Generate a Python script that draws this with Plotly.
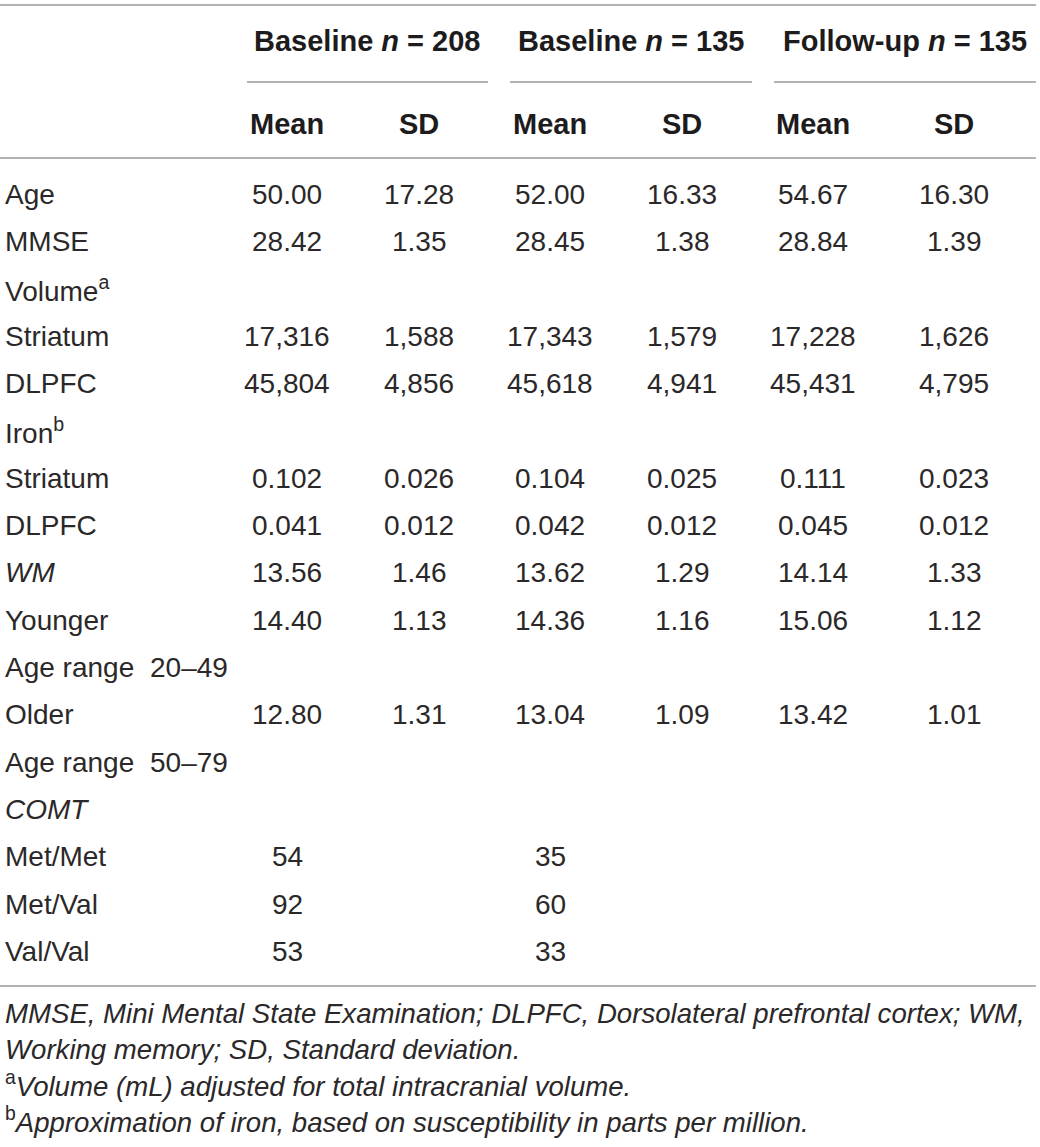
import plotly.graph_objects as go

# table content
labels = ["Age", "MMSE", "Volume<sup>a</sup>", "Striatum", "DLPFC", "Iron<sup>b</sup>",
          "Striatum", "DLPFC", "<i>WM</i>", "Younger", "Age range", "Older",
          "Age range", "<i>COMT</i>", "Met/Met", "Met/Val", "Val/Val"]
age_ranges = ["", "", "", "", "", "", "", "", "", "", "20–49", "", "50–79", "", "", "", ""]

b208_mean = ["50.00", "28.42", "", "17,316", "45,804", "", "0.102", "0.041", "13.56",
             "14.40", "", "12.80", "", "", "54", "92", "53"]
b208_sd = ["17.28", "1.35", "", "1,588", "4,856", "", "0.026", "0.012", "1.46",
           "1.13", "", "1.31", "", "", "", "", ""]
b135_mean = ["52.00", "28.45", "", "17,343", "45,618", "", "0.104", "0.042", "13.62",
             "14.36", "", "13.04", "", "", "35", "60", "33"]
b135_sd = ["16.33", "1.38", "", "1,579", "4,941", "", "0.025", "0.012", "1.29",
           "1.16", "", "1.09", "", "", "", "", ""]
fu_mean = ["54.67", "28.84", "", "17,228", "45,431", "", "0.111", "0.045", "14.14",
           "15.06", "", "13.42", "", "", "", "", ""]
fu_sd = ["16.30", "1.39", "", "1,626", "4,795", "", "0.023", "0.012", "1.33",
         "1.12", "", "1.01", "", "", "", "", ""]

groups = ["Baseline <i>n</i> = 208", "Baseline <i>n</i> = 135", "Follow-up <i>n</i> = 135"]
subheads = ["Mean", "SD"]

footnotes = [
    "<i>MMSE, Mini Mental State Examination; DLPFC, Dorsolateral prefrontal cortex; WM,</i>",
    "<i>Working memory; SD, Standard deviation.</i>",
    "<sup>a</sup><i>Volume (mL) adjusted for total intracranial volume.</i>",
    "<sup>b</sup><i>Approximation of iron, based on susceptibility in parts per million.</i>",
]

# layout (pixel units on the axes)
W, H = 1040, 1147
ROW0, PITCH = 194, 47.35
MEAN_X = [287, 550, 813]
SD_X = [419, 682, 954]
GROUP_SPANS = [(247, 488), (510, 752), (774, 1036)]
TEXT = "#2b2829"
RULE = "#9a9a9a"
BODY = dict(family="Liberation Sans, Arial, sans-serif", size=28, color=TEXT)
HEAD = dict(family="Liberation Sans, Arial, sans-serif", size=29, color="#1e1b1c")
NOTE = dict(family="Liberation Sans, Arial, sans-serif", size=27.6, color=TEXT)

fig = go.Figure()
ann = []


def cell(x, y, text, font, anchor="center"):
    ann.append(dict(x=x, y=y, xref="x", yref="y", text=text, showarrow=False,
                    xanchor=anchor, yanchor="middle", font=font))


# header
for g, (x0, x1) in zip(groups, GROUP_SPANS):
    cell((x0 + x1) / 2, 41, "<b>" + g + "</b>", HEAD)
for mx, sx in zip(MEAN_X, SD_X):
    cell(mx, 124, "<b>" + subheads[0] + "</b>", HEAD)
    cell(sx, 124, "<b>" + subheads[1] + "</b>", HEAD)

# body
columns = [(MEAN_X[0], b208_mean), (SD_X[0], b208_sd),
           (MEAN_X[1], b135_mean), (SD_X[1], b135_sd),
           (MEAN_X[2], fu_mean), (SD_X[2], fu_sd)]
for i, lab in enumerate(labels):
    y = ROW0 + PITCH * i
    cell(3, y, lab, BODY, "left")
    if age_ranges[i]:
        cell(148, y, age_ranges[i], BODY, "left")
    for x, vals in columns:
        if vals[i]:
            cell(x, y, vals[i], BODY)

# footnotes
for k, note in enumerate(footnotes):
    cell(3, 1013.5 + 35.7 * k, note, NOTE, "left")

# rules
shapes = [dict(type="line", xref="x", yref="y", x0=0, x1=1036, y0=yy, y1=yy,
               line=dict(color=RULE, width=1.5)) for yy in (5, 158, 986)]
for x0, x1 in GROUP_SPANS:
    shapes.append(dict(type="line", xref="x", yref="y", x0=x0, x1=x1, y0=82, y1=82,
                       line=dict(color=RULE, width=1.5)))

fig.update_layout(
    width=W, height=H,
    margin=dict(l=0, r=0, t=0, b=0),
    paper_bgcolor="white", plot_bgcolor="white",
    xaxis=dict(range=[0, W], visible=False, fixedrange=True),
    yaxis=dict(range=[H, 0], visible=False, fixedrange=True),
    annotations=ann,
    shapes=shapes,
    showlegend=False,
)

# drop the default page margin so the figure sits at the window corner
fig.write_html("out.html", config={"displayModeBar": False},
               post_script="document.body.style.margin='0px';")
